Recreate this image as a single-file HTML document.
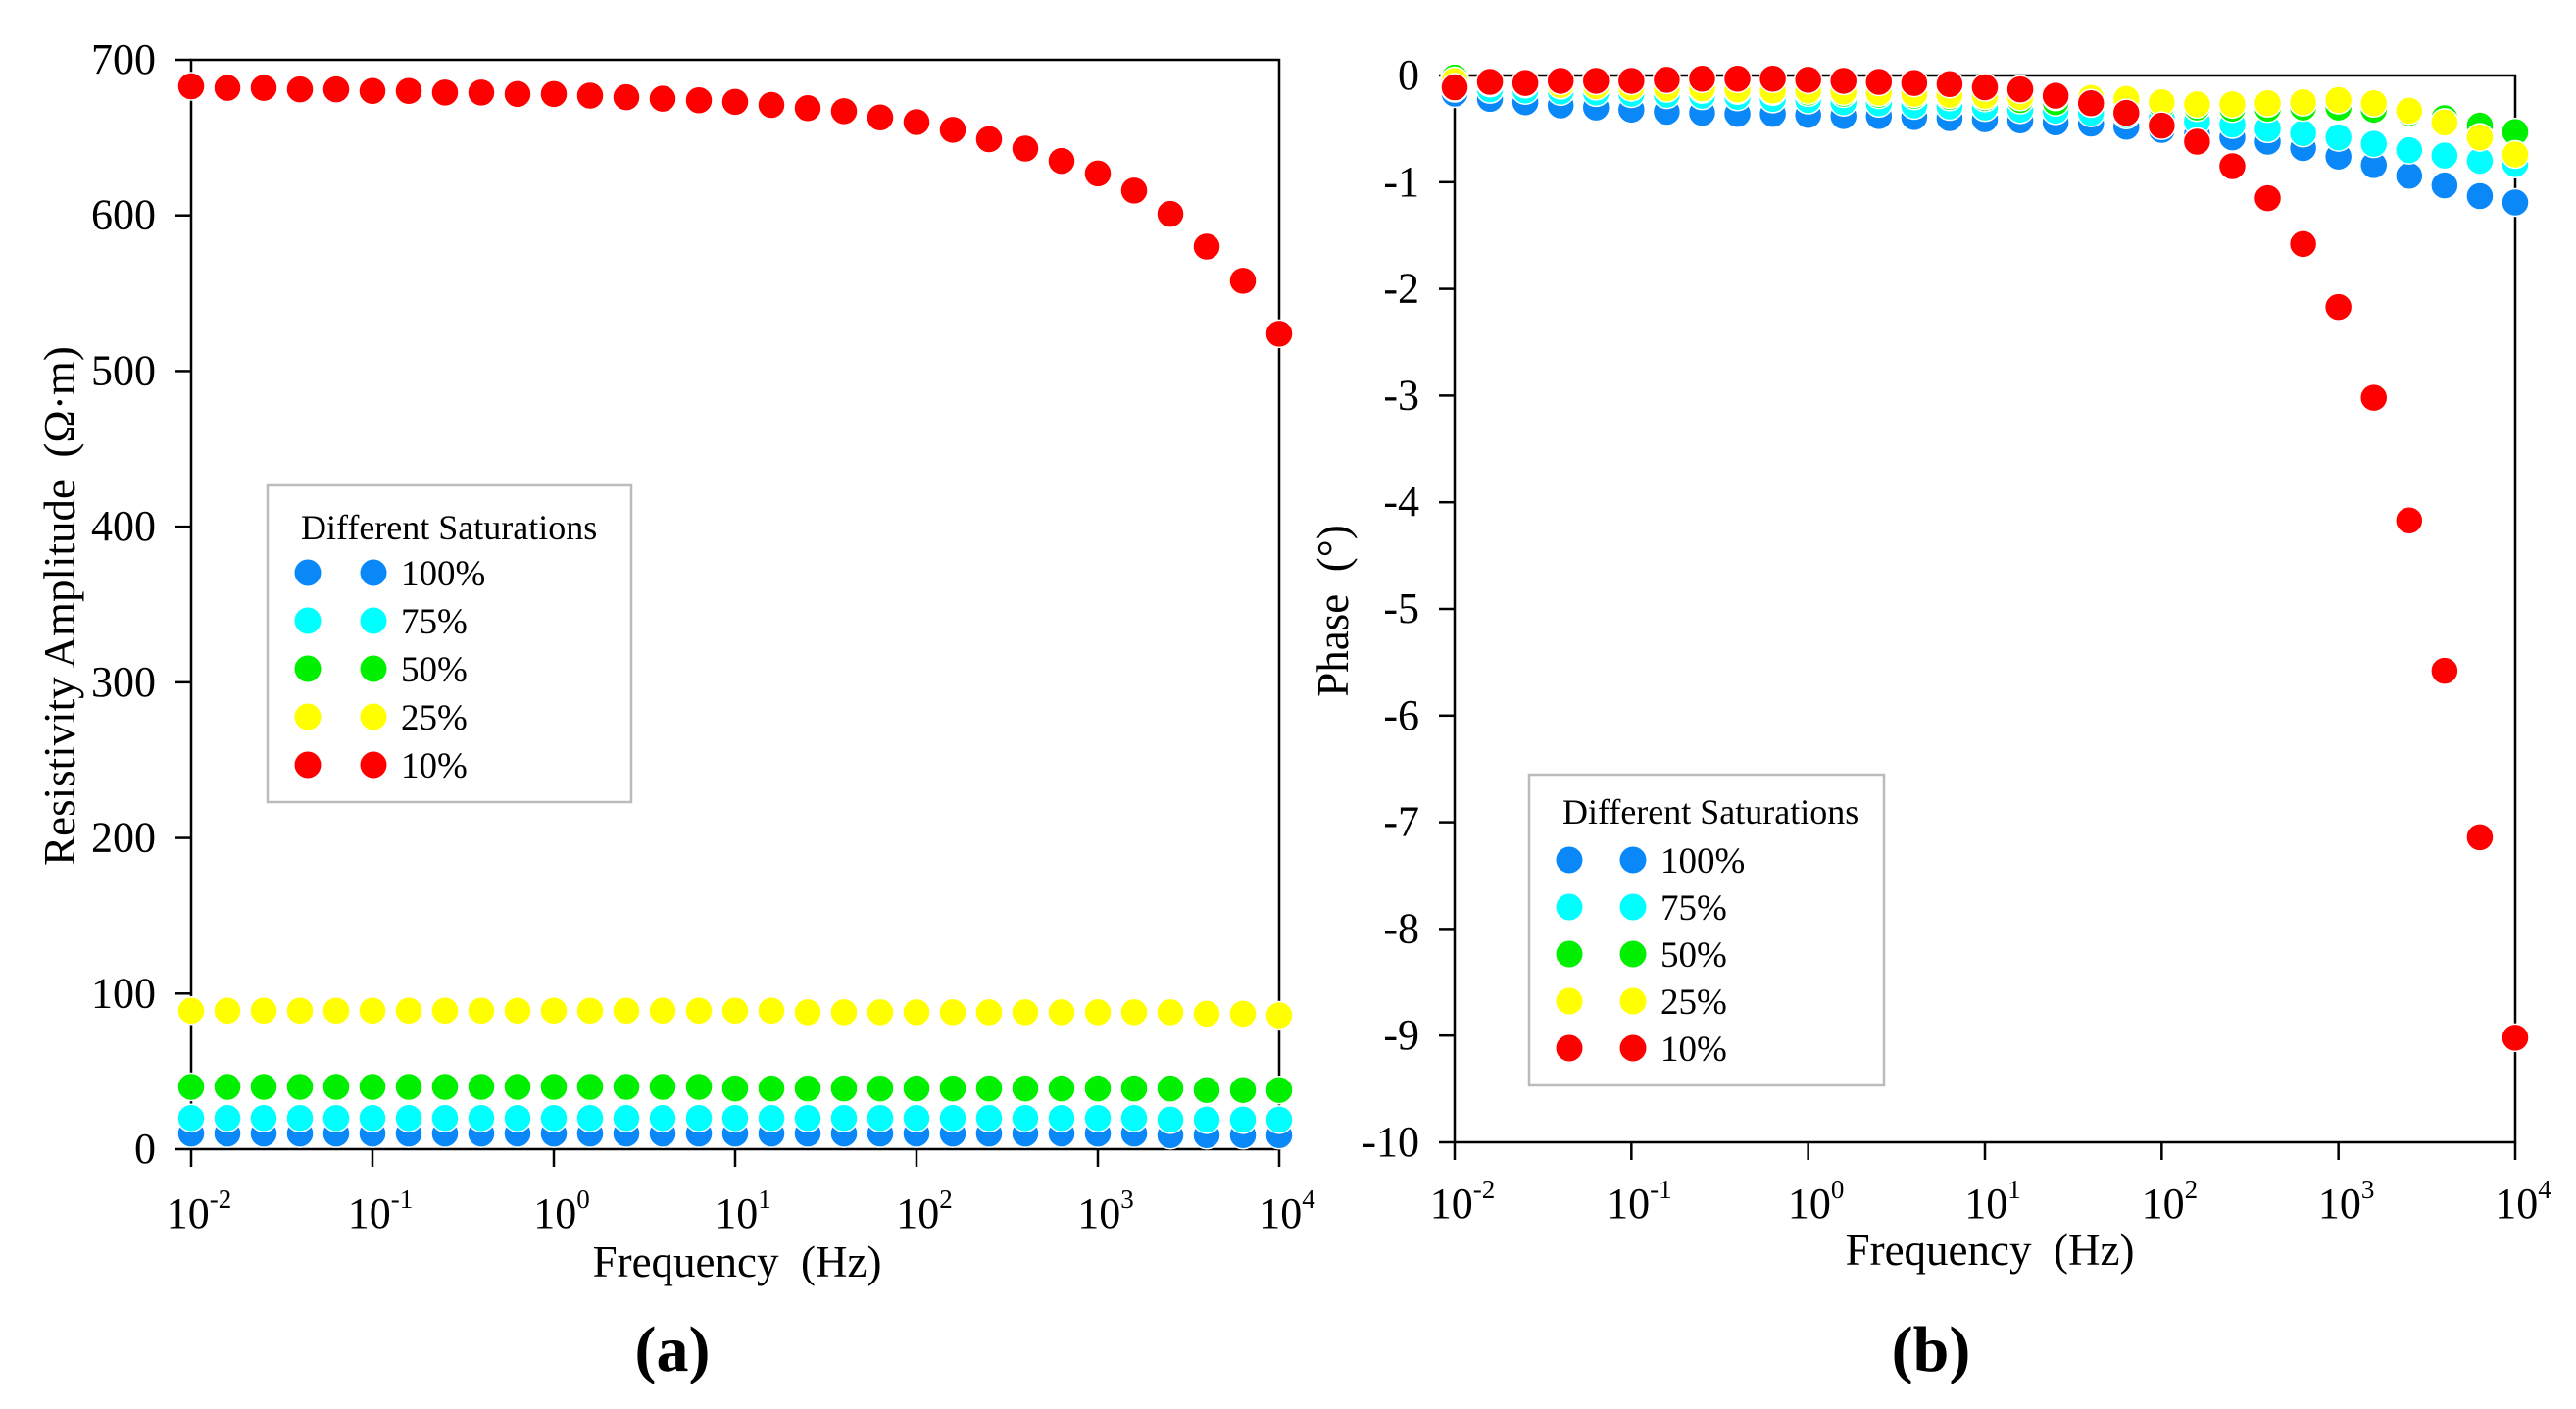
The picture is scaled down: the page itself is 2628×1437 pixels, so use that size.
<!DOCTYPE html>
<html><head><meta charset="utf-8"><style>
body{margin:0;background:#fff}
svg{display:block;font-family:"Liberation Serif",serif}
</style></head><body>
<svg id="s" width="2628" height="1437" viewBox="0 0 2628 1437" xmlns="http://www.w3.org/2000/svg"></svg>
<script>
const freqExp = [-2,-1.8,-1.6,-1.4,-1.2,-1,-0.8,-0.6,-0.4,-0.2,0,0.2,0.4,0.6,0.8,1,1.2,1.4,1.6,1.8,2,2.2,2.4,2.6,2.8,3,3.2,3.4,3.6,3.8,4];
const seriesNames = ["100%","75%","50%","25%","10%"];
const seriesColors = ["#0a88f8","#00ffff","#00f000","#ffff00","#ff0000"];
const ampBlue = [10,10,10,10,10,10,10,10,10,10,10,10,10,10,10,10,10,10,10,10,10,10,10,10,10,10,10,9,9,9,9];
const ampCyan = [20,20,20,20,20,20,20,20,20,20,20,20,20,20,20,20,20,20,20,20,20,20,20,20,20,20,20,19,19,19,19];
const ampGreen = [40,40,40,40,40,40,40,40,40,40,40,40,40,40,40,39,39,39,39,39,39,39,39,39,39,39,39,39,38,38,38];
const ampYellow = [89,89,89,89,89,89,89,89,89,89,89,89,89,89,89,89,89,88,88,88,88,88,88,88,88,88,88,88,87,87,86];
const ampRed = [683,682,682,681,681,680,680,679,679,678,678,677,676,675,674,673,671,669,667,663,660,655,649,643,635,627,616,601,580,558,524];
const phBlue = [-0.17,-0.22,-0.25,-0.28,-0.3,-0.32,-0.34,-0.35,-0.36,-0.36,-0.37,-0.38,-0.38,-0.39,-0.4,-0.41,-0.42,-0.44,-0.45,-0.48,-0.51,-0.55,-0.58,-0.62,-0.68,-0.76,-0.84,-0.94,-1.03,-1.13,-1.19];
const phCyan = [-0.12,-0.13,-0.14,-0.15,-0.16,-0.17,-0.18,-0.19,-0.2,-0.22,-0.23,-0.25,-0.26,-0.28,-0.29,-0.3,-0.32,-0.33,-0.35,-0.37,-0.4,-0.43,-0.46,-0.5,-0.54,-0.58,-0.64,-0.7,-0.75,-0.8,-0.83];
const phGreen = [-0.02,-0.07,-0.08,-0.09,-0.1,-0.11,-0.12,-0.13,-0.14,-0.15,-0.16,-0.17,-0.18,-0.19,-0.2,-0.21,-0.23,-0.25,-0.26,-0.27,-0.28,-0.3,-0.31,-0.31,-0.3,-0.3,-0.32,-0.35,-0.4,-0.47,-0.53];
const phYellow = [-0.05,-0.07,-0.08,-0.09,-0.1,-0.11,-0.12,-0.12,-0.13,-0.14,-0.14,-0.15,-0.16,-0.17,-0.18,-0.19,-0.2,-0.2,-0.21,-0.22,-0.25,-0.27,-0.27,-0.26,-0.25,-0.23,-0.26,-0.33,-0.44,-0.58,-0.74];
const phRed = [-0.11,-0.06,-0.07,-0.05,-0.05,-0.05,-0.04,-0.03,-0.03,-0.03,-0.04,-0.05,-0.06,-0.07,-0.08,-0.11,-0.13,-0.19,-0.26,-0.35,-0.47,-0.62,-0.85,-1.15,-1.58,-2.17,-3.02,-4.17,-5.58,-7.14,-9.02];
const ampTicks = [0,100,200,300,400,500,600,700];
const phTicks = [0,-1,-2,-3,-4,-5,-6,-7,-8,-9,-10];
const xTickExp = [-2,-1,0,1,2,3,4];

const NS="http://www.w3.org/2000/svg";
const svg=document.getElementById('s');
function mk(tag,attrs,parent){const e=document.createElementNS(NS,tag);for(const k in attrs)e.setAttribute(k,attrs[k]);(parent||svg).appendChild(e);return e;}

function panel(cfg){
  const g=mk('g',{});
  
  
  const xs=e=>cfg.x0+(e-(-2))/6*(cfg.x1-cfg.x0);
  const ys=v=>cfg.y0+(v-cfg.ymin)/(cfg.ymax-cfg.ymin)*(cfg.y1-cfg.y0);
  const frame=mk('rect',{x:cfg.x0,y:cfg.y1,width:cfg.x1-cfg.x0,height:cfg.y0-cfg.y1,fill:'none',stroke:'#000','stroke-width':2.5},g);
  
  
  cfg.yt.forEach(v=>{
    const y=ys(v);
    const t=mk('line',{x1:cfg.x0-16,x2:cfg.x0,y1:y,y2:y,stroke:'#000','stroke-width':2.5},g);
    
    
    const l=mk('text',{x:cfg.x0-36,y:y+14,'text-anchor':'end','font-size':44},g);
    l.textContent=String(v);
    
    
  });
  xTickExp.forEach(e=>{
    const x=xs(e);
    const t=mk('line',{x1:x,x2:x,y1:cfg.y0,y2:cfg.y0+18,stroke:'#000','stroke-width':2.5},g);
    
    
    const l=mk('text',{x:x+8,y:cfg.xlb,'text-anchor':'middle','font-size':44},g);
    l.textContent='10';
    const sp=mk('tspan',{dy:-20,'font-size':27},l);sp.textContent=String(e);
    
    
  });
  cfg.data.forEach((arr,si)=>{
    arr.forEach((v,i)=>{
      const c=mk('circle',{cx:xs(freqExp[i]),cy:ys(v),r:14,fill:seriesColors[si],stroke:'#fff','stroke-width':1.5},g);
      
      
    });
  });
  const xl=mk('text',{x:cfg.xlx,y:cfg.xly,'text-anchor':'middle','font-size':45},g);
  xl.textContent='Frequency\u00a0\u00a0(Hz)';
  
  
  const yl=mk('text',{x:0,y:0,'text-anchor':'middle','font-size':45,transform:`translate(${cfg.ylx},${cfg.yly}) rotate(-90)`},g);
  yl.textContent=cfg.ytitle;
  
  
  const pl=mk('text',{x:cfg.plx,y:cfg.ply,'text-anchor':'middle','font-size':66,'font-weight':'bold'},g);
  pl.textContent=cfg.label;
  
  
  const L=cfg.leg;
  const lg=mk('g',{},g);
  
  
  const lb=mk('rect',{x:L.x,y:L.y,width:L.w,height:L.h,fill:'#fff',stroke:'#bbb','stroke-width':2.5},lg);
  
  
  const lt=mk('text',{x:L.tx,y:L.ty,'font-size':36},lg);
  lt.textContent='Different Saturations';
  
  
  seriesNames.forEach((n,i)=>{
    const y=L.ey0+i*L.dy;
    const e=mk('g',{},lg);
    
    
    mk('circle',{cx:L.m1,cy:y,r:13.5,fill:seriesColors[i]},e);
    mk('circle',{cx:L.m2,cy:y,r:13.5,fill:seriesColors[i]},e);
    const t=mk('text',{x:L.m2+28,y:y+13,'font-size':37},e);
    t.textContent=n;
  });
}

panel({name:'chart-a-resistivity',x0:195,x1:1305,y0:1172,y1:61,ymin:0,ymax:700,yt:ampTicks,xlb:1252,
  data:[ampBlue,ampCyan,ampGreen,ampYellow,ampRed],xlx:752,xly:1302,ylx:76,yly:618,
  ytitle:'Resistivity Amplitude\u00a0\u00a0(Ω·m)',label:'(a)',plx:686,ply:1398,
  leg:{x:273,y:495,w:371,h:323,tx:307,ty:550,ey0:584,dy:49,m1:314,m2:381}});
panel({name:'chart-b-phase',x0:1484,x1:2566,y0:1165,y1:77,ymin:-10,ymax:0,yt:phTicks,xlb:1242,
  data:[phBlue,phCyan,phGreen,phYellow,phRed],xlx:2030,xly:1290,ylx:1375,yly:623,
  ytitle:'Phase\u00a0\u00a0(°)',label:'(b)',plx:1970,ply:1398,
  leg:{x:1560,y:790,w:362,h:317,tx:1594,ty:840,ey0:877,dy:48,m1:1601,m2:1666}});
</script>
</body></html>
